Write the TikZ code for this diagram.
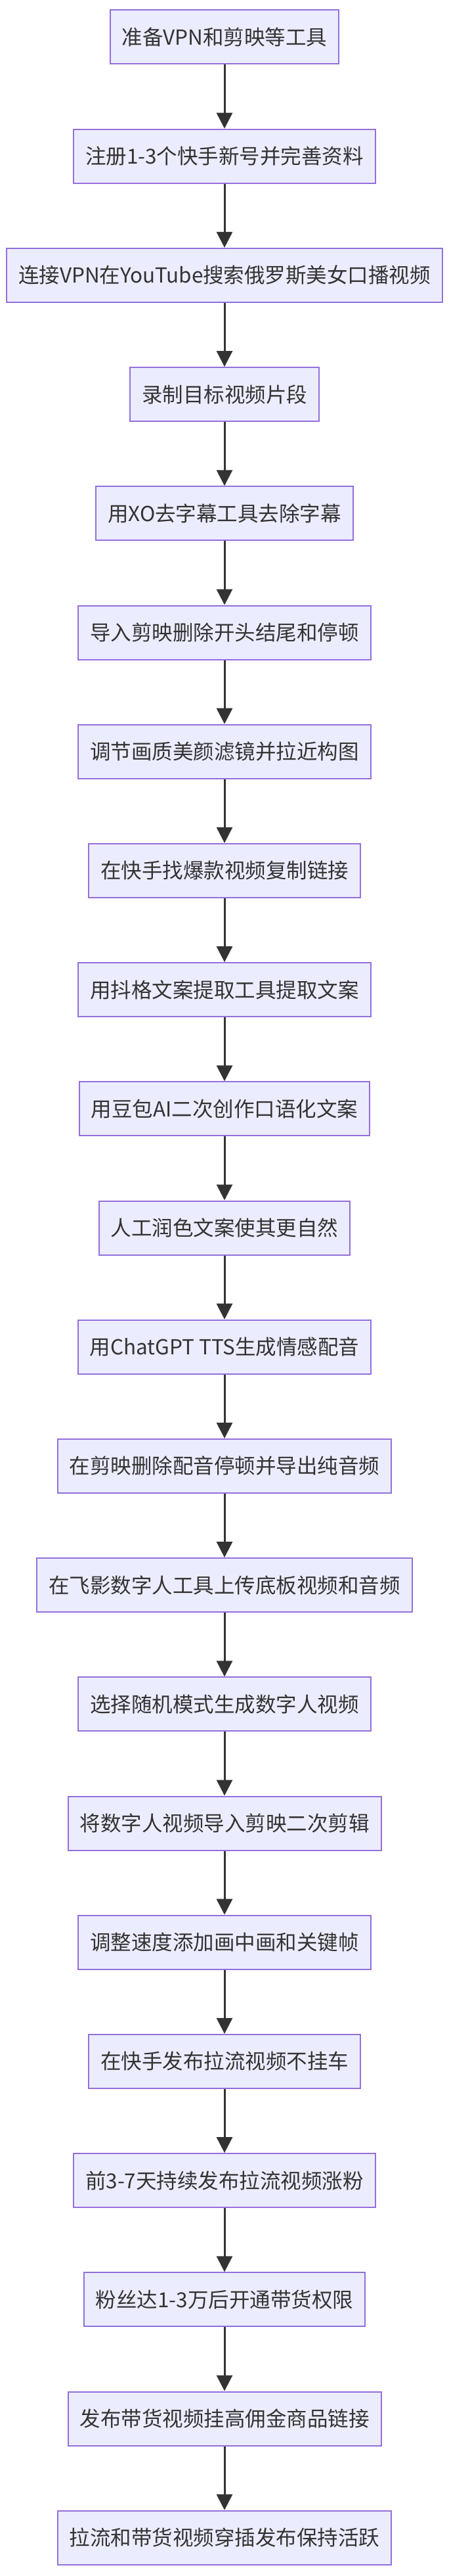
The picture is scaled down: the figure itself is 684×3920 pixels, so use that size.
\documentclass[tikz,border=0pt]{standalone}
\usepackage{fontspec}
\setmainfont{Noto Sans CJK SC}
\usetikzlibrary{arrows.meta}
\definecolor{nfill}{HTML}{ECECFF}
\definecolor{nline}{HTML}{9370DB}
\definecolor{ink}{HTML}{333333}
\tikzset{
  stepbox/.style={draw=nline, fill=nfill, line width=2pt, minimum height=82pt, inner xsep=18pt, text=ink, font=\fontsize{31.5}{36}\selectfont},
  flow/.style={draw=ink, line width=3pt, -{Triangle[length=24pt,width=24pt]}, shorten >=0pt}
}
\begin{document}
\begin{tikzpicture}[x=1pt,y=1pt]
\useasboundingbox (0,0) rectangle (684,-3920);
\foreach \t [count=\i from 0] in {准备VPN和剪映等工具,注册1-3个快手新号并完善资料,连接VPN在YouTube搜索俄罗斯美女口播视频,录制目标视频片段,用XO去字幕工具去除字幕,导入剪映删除开头结尾和停顿,调节画质美颜滤镜并拉近构图,在快手找爆款视频复制链接,用抖格文案提取工具提取文案,用豆包AI二次创作口语化文案,人工润色文案使其更自然,用ChatGPT TTS生成情感配音,在剪映删除配音停顿并导出纯音频,在飞影数字人工具上传底板视频和音频,选择随机模式生成数字人视频,将数字人视频导入剪映二次剪辑,调整速度添加画中画和关键帧,在快手发布拉流视频不挂车,前3-7天持续发布拉流视频涨粉,粉丝达1-3万后开通带货权限,发布带货视频挂高佣金商品链接,拉流和带货视频穿插发布保持活跃}
{
  \node[stepbox] (n\i) at (342,{-56.5-181.2*\i}) {\t};
}
\foreach \i [evaluate=\i as \j using int(\i+1)] in {0,...,20}
{
  \draw[flow] (n\i.south) -- (n\j.north);
}
\end{tikzpicture}
\end{document}
